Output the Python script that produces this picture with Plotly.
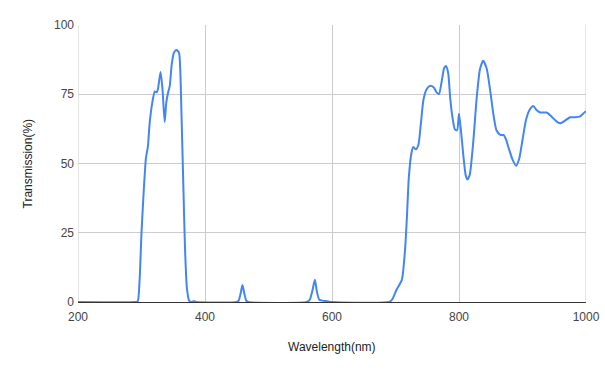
import plotly.graph_objects as go

wavelength = [200, 290, 294, 297, 300, 303, 307, 310, 313, 317, 321, 324, 326, 330, 333, 336.5, 339, 342,
              344.5, 347.5, 351, 355, 359, 361, 363, 366, 368.5, 371.5, 375, 378, 382, 386,
              450, 453, 456, 459, 462, 465, 468,
              560, 565, 569, 573, 576, 580, 585, 592, 600,
              690, 695, 702, 710, 715, 718, 721, 725, 728, 732, 736, 740, 744, 749, 754, 760, 765,
              768.5, 773, 776.5, 779.5, 783, 786, 789.5, 793.5, 797, 800, 803, 807, 810.5, 813.5,
              817, 822.5, 828, 833, 838, 843.5, 849, 854, 859, 865, 870, 874, 879, 884.5, 890,
              895, 900, 905.5, 911, 917, 922, 928, 938, 946, 954, 960, 967, 975, 983, 990, 998, 1000]
transmission = [0, 0, 0.2, 8, 25, 38, 52, 56, 65, 72, 76, 75.7, 77, 83, 77, 65, 72, 75.7,
                78, 85.6, 90, 91, 90, 84, 67.5, 41, 19.5, 5, 0.5, 0, 0.3, 0,
                0, 0.5, 3, 6.1, 3, 0.5, 0,
                0, 0.8, 4, 8, 4, 0.8, 0.5, 0.3, 0,
                0, 1, 4.6, 8, 18.8, 30.8, 45, 53.7, 56, 55.1, 56.7, 64.5, 73, 76.8, 78, 77.5, 75.6,
                75.1, 80, 84.4, 85.2, 82.6, 74, 67, 62.3, 62, 68, 62, 52.5, 45.8, 44.2,
                46, 58, 74, 84, 87.1, 84.4, 76.5, 68, 62, 60.3, 60.3, 58.7, 55, 51.3, 49.2,
                51.9, 58.5, 65.7, 69.3, 70.8, 69.3, 68.4, 68.4, 66.9, 65.1, 64.5, 65.5, 66.7, 66.7, 66.9, 68.5, 68.8]

x_ticks = [200, 400, 600, 800, 1000]
y_ticks = [0, 25, 50, 75, 100]
x_title = "Wavelength(nm)"
y_title = "Transmission(%)"

fig = go.Figure()
fig.add_trace(go.Scatter(
    x=wavelength, y=transmission, mode="lines",
    line=dict(color="#4285F4", width=2, shape="spline", smoothing=0.6),
    showlegend=False, hoverinfo="x+y",
))

font_family = "Liberation Sans, Arial, sans-serif"
fig.update_layout(
    width=605, height=374,
    margin=dict(l=78, r=19, t=25, b=72),
    paper_bgcolor="white", plot_bgcolor="white",
    font=dict(family=font_family, size=12, color="#444"),
    xaxis=dict(
        range=[200, 1000], tickvals=x_ticks, ticktext=[str(v) for v in x_ticks],
        showgrid=True, gridcolor="#cccccc", gridwidth=1,
        zeroline=False, showline=True, linecolor="#333333", linewidth=1,
        ticks="", tickfont=dict(size=12, color="#444"), automargin=False,
        ticklabelstandoff=4,
    ),
    yaxis=dict(
        range=[0, 100], tickvals=y_ticks, ticktext=[str(v) for v in y_ticks],
        showgrid=True, gridcolor="#cccccc", gridwidth=1,
        zeroline=False, showline=False,
        ticks="", tickfont=dict(size=12, color="#444"), automargin=False,
        ticklabelstandoff=3,
    ),
)
fig.add_annotation(text=x_title, xref="paper", yref="paper", x=0.5, y=-(347 - 302) / 277,
                   yanchor="middle", xanchor="center", showarrow=False,
                   font=dict(size=12, color="#222", family=font_family))
fig.add_annotation(text=y_title, xref="paper", yref="paper", x=-(78 - 27) / 508, y=0.5,
                   yanchor="middle", xanchor="center", showarrow=False, textangle=-90,
                   font=dict(size=12, color="#222", family=font_family))
fig.add_shape(type="line", xref="x", yref="y", x0=200, x1=200, y0=0, y1=100,
              line=dict(color="#cccccc", width=1), layer="below")
fig.add_shape(type="line", xref="x", yref="y", x0=1000, x1=1000, y0=0, y1=100,
              line=dict(color="#cccccc", width=1), layer="below")

fig.write_html("out.html")
